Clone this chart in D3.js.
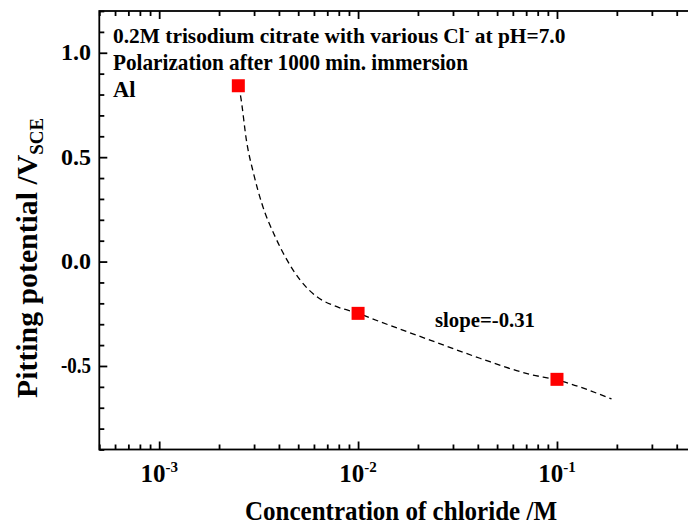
<!DOCTYPE html>
<html><head><meta charset="utf-8">
<script src="https://cdn.jsdelivr.net/npm/d3@7"></script>
</head><body style="margin:0;background:#fff">
<svg id="chart" width="688" height="526"></svg>
<script>
// ---- data ----
const concentrations = [0.0025, 0.01, 0.1];          // M
const pittingPotentials = [0.842, -0.248, -0.564];   // V_SCE
// dashed guide curve
const fitConc = [0.0025, 0.00255, 0.00276, 0.00298, 0.00328, 0.00383, 0.00439, 0.00511, 0.0062, 0.00782, 0.01, 0.0129, 0.023, 0.041, 0.0731, 0.1, 0.188];
const fitPot  = [0.842, 0.807, 0.567, 0.423, 0.279, 0.119, 0.008, -0.088, -0.168, -0.216, -0.248, -0.288, -0.376, -0.463, -0.540, -0.567, -0.658];
const yMajorTicks = [-0.5, 0.0, 0.5, 1.0];
const yTickLabels = ["-0.5", "0.0", "0.5", "1.0"];
const xMajorTicks = [0.001, 0.01, 0.1];
const xTickExponents = ["-3", "-2", "-1"];
const titleLines = ["0.2M trisodium citrate with various Cl", "Polarization after 1000 min. immersion", "Al"];
const slopeLabel = "slope=-0.31";

// ---- layout ----
const FONT = '"Liberation Serif", "Times New Roman", serif';
const svg = d3.select("#chart");
const L = 99.3, R = 696, T = 11, B = 449.5;
const x = d3.scaleLog().domain([5e-4, 0.5]).range([L, R]);
const y = d3.scaleLinear().domain([-0.9, 1.2]).range([B, T]);

function txt(sel, size) {
  return sel.style("font-family", FONT).style("font-weight", "bold").style("font-size", size + "px").attr("fill", "#000");
}

const xMinor = x.ticks().filter(v => !xMajorTicks.some(m => Math.abs(m - v) / m < 1e-6));
const yMinor = d3.range(-9, 13).map(i => i / 10).filter(v => !yMajorTicks.some(m => Math.abs(m - v) < 1e-6));

function styleAxis(g) {
  g.select(".domain").remove();
  g.selectAll("line").attr("stroke", "#000").attr("stroke-width", 1.8);
  g.selectAll("text").remove();
}
const MAJ = 8, MIN = 5;
svg.append("g").attr("transform", `translate(0,${B})`).call(d3.axisBottom(x).tickValues(xMajorTicks).tickSize(-MAJ)).call(styleAxis);
svg.append("g").attr("transform", `translate(0,${B})`).call(d3.axisBottom(x).tickValues(xMinor).tickSize(-MIN)).call(styleAxis);
svg.append("g").attr("transform", `translate(0,${T})`).call(d3.axisTop(x).tickValues(xMajorTicks).tickSize(-MAJ)).call(styleAxis);
svg.append("g").attr("transform", `translate(0,${T})`).call(d3.axisTop(x).tickValues(xMinor).tickSize(-MIN)).call(styleAxis);
svg.append("g").attr("transform", `translate(${L},0)`).call(d3.axisLeft(y).tickValues(yMajorTicks).tickSize(-MAJ)).call(styleAxis);
svg.append("g").attr("transform", `translate(${L},0)`).call(d3.axisLeft(y).tickValues(yMinor).tickSize(-MIN)).call(styleAxis);
svg.append("g").attr("transform", `translate(${R},0)`).call(d3.axisRight(y).tickValues(yMajorTicks).tickSize(-MAJ)).call(styleAxis);
svg.append("g").attr("transform", `translate(${R},0)`).call(d3.axisRight(y).tickValues(yMinor).tickSize(-MIN)).call(styleAxis);

svg.append("rect").attr("x", L).attr("y", T).attr("width", R - L).attr("height", B - T)
  .attr("fill", "none").attr("stroke", "#000").attr("stroke-width", 1.8);

// y tick labels
svg.append("g").selectAll("text").data(yMajorTicks).join("text")
  .attr("x", 91).attr("y", d => y(d) + 7.5)
  .attr("text-anchor", "end").call(txt, 24)
  .attr("textLength", 30).attr("lengthAdjust", "spacingAndGlyphs")
  .text((d, i) => yTickLabels[i]);

// x tick labels
const xl = svg.append("g").selectAll("text").data(xMajorTicks).join("text")
  .attr("x", d => x(d)).attr("y", 481.7)
  .attr("text-anchor", "middle").call(txt, 25);
xl.append("tspan").text("10");
xl.append("tspan").style("font-size", "15px").attr("dy", -10).text((d, i) => xTickExponents[i]);

// dashed curve
const line = d3.line().x((d, i) => x(fitConc[i])).y((d, i) => y(fitPot[i])).curve(d3.curveMonotoneX);
svg.append("path").attr("d", line(fitConc)).attr("fill", "none")
  .attr("stroke", "#000").attr("stroke-width", 1.3).attr("stroke-dasharray", "6,4");

// markers
const S = 13;
svg.append("g").selectAll("rect").data(concentrations).join("rect")
  .attr("x", d => x(d) - S / 2).attr("y", (d, i) => y(pittingPotentials[i]) - S / 2)
  .attr("width", S).attr("height", S).attr("fill", "#ff0000");

// annotation text
const t1 = svg.append("text").attr("x", 113).attr("y", 42.5).call(txt, 21.4);
t1.append("tspan").text(titleLines[0]);
t1.append("tspan").style("font-size", "14px").attr("dy", -8).text("-");
t1.append("tspan").attr("dy", 8).text(" at pH=7.0");
svg.append("text").attr("x", 113).attr("y", 69.5).call(txt, 22.5)
  .attr("textLength", 355).attr("lengthAdjust", "spacingAndGlyphs").text(titleLines[1]);
svg.append("text").attr("x", 113).attr("y", 96.5).call(txt, 22.5).text(titleLines[2]);
svg.append("text").attr("x", 435).attr("y", 326.7).call(txt, 22)
  .attr("textLength", 100).attr("lengthAdjust", "spacingAndGlyphs").text(slopeLabel);

// axis titles
svg.append("text").attr("x", 245).attr("y", 520).call(txt, 28)
  .attr("textLength", 312).attr("lengthAdjust", "spacingAndGlyphs")
  .text("Concentration of chloride /M");
const yt = svg.append("text").attr("transform", "translate(37,398) rotate(-90)")
  .call(txt, 30).attr("textLength", 280).attr("lengthAdjust", "spacingAndGlyphs");
yt.append("tspan").text("Pitting potential /V");
yt.append("tspan").style("font-size", "19px").attr("dy", 6).text("SCE");
</script>
</body></html>
